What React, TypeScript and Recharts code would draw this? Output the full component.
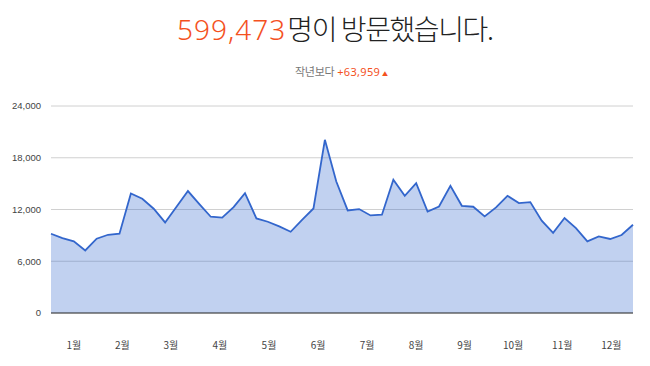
import React from 'react';
import { AreaChart, Area, XAxis, YAxis, CartesianGrid } from 'recharts';

const weeklyVisitors = [
  9190, 8690, 8300, 7250, 8610, 9070, 9190, 13860, 13240, 12090,
  10500, 12320, 14140, 12620, 11160, 11060, 12280, 13900, 10960, 10580,
  10040, 9420, 10810, 12120, 20080, 15250, 11890, 12050, 11310, 11390,
  15450, 13590, 15060, 11770, 12350, 14750, 12430, 12320, 11200, 12240,
  13590, 12750, 12860, 10700, 9300, 11010, 9850, 8300, 8880, 8580,
  9040, 10230,
];
const monthLabels = ['1월', '2월', '3월', '4월', '5월', '6월', '7월', '8월', '9월', '10월', '11월', '12월'];
const monthTickPos = [2.0, 6.25, 10.5, 14.8, 19.1, 23.4, 27.7, 32.0, 36.25, 40.5, 44.8, 49.1];
const yTicks = [0, 6000, 12000, 18000, 24000];
const totalVisitors = '599,473';
const diffVisitors = '+63,959';

const data = weeklyVisitors.map((v, i) => ({ week: i, visitors: v }));

const ACCENT = '#f4511e';

export default function App() {
  return (
    <div style={{ position: 'absolute', left: 0, top: 0, width: 650, height: 366, background: '#fff' }}>
      <svg width={650} height={90} style={{ position: 'absolute', left: 0, top: 0 }}>
        <text x={177} y={40} fontSize={28}>
          <tspan fill={ACCENT} fontFamily="'Noto Sans', sans-serif" fontWeight={300} letterSpacing={1}>{totalVisitors}</tspan>
          <tspan fill="#222" fontFamily="'Noto Sans CJK KR', sans-serif" letterSpacing={-1.4} fontWeight={300} dx={1}>명이 방문했습니다.</tspan>
        </text>
        <text x={295} y={76} fontSize={11} fontFamily="'Noto Sans CJK KR', sans-serif">
          <tspan fill="#777" letterSpacing={-0.3}>작년보다</tspan>
          <tspan fill={ACCENT} fontFamily="'Noto Sans', sans-serif" dx={3} letterSpacing={0.3}>{diffVisitors}</tspan>
          <tspan fill={ACCENT} fontSize={6} dx={2} dy={-0.5}>▲</tspan>
        </text>
      </svg>
      <div style={{ position: 'absolute', left: 0, top: 0 }}>
        <AreaChart
          width={650}
          height={366}
          data={data}
          margin={{ top: 106, right: 17, bottom: 13, left: 0 }}
        >
          <CartesianGrid horizontal vertical={false} stroke="#d0d0d0" />
          <XAxis
            dataKey="week"
            type="number"
            domain={[0, weeklyVisitors.length - 1]}
            ticks={monthTickPos}
            tickFormatter={(v: number) => monthLabels[monthTickPos.indexOf(v)]}
            interval={0}
            height={40}
            tickLine={false}
            tickSize={0}
            tickMargin={29}
            axisLine={{ stroke: '#333', strokeWidth: 1 }}
            tick={{ fontSize: 10, fill: '#444', fontFamily: "'Noto Sans CJK KR', sans-serif" }}
          />
          <YAxis
            width={51}
            domain={[0, 24000]}
            ticks={yTicks}
            tickFormatter={(v: number) => v.toLocaleString('en-US')}
            tickLine={false}
            tickSize={0}
            tickMargin={10}
            axisLine={false}
            tick={{ fontSize: 9.5, fill: '#444', fontFamily: "'Liberation Sans', Arial, sans-serif" }}
          />
          <Area
            type="linear"
            dataKey="visitors"
            stroke="#3366cc"
            strokeWidth={1.8}
            fill="#3366cc"
            fillOpacity={0.3}
            dot={false}
            activeDot={false}
            isAnimationActive={false}
          />
        </AreaChart>
      </div>
    </div>
  );
}
